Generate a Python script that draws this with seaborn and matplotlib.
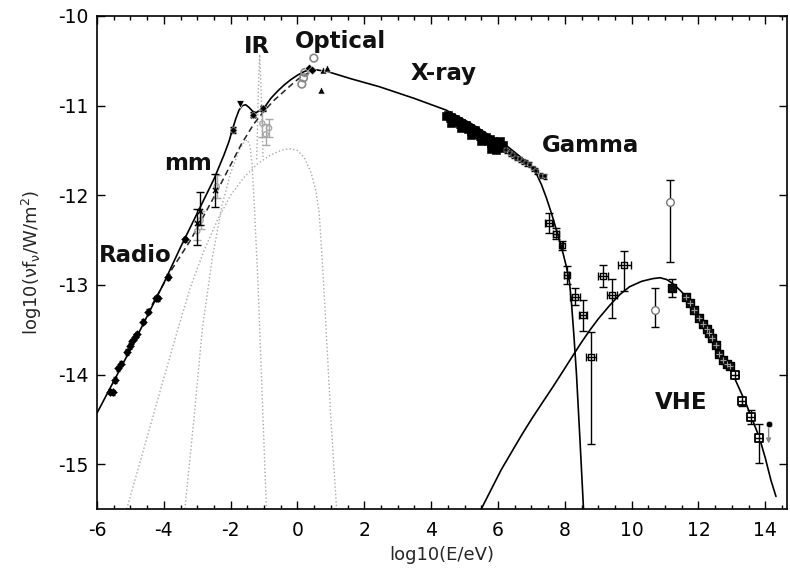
import matplotlib
matplotlib.use("Agg")
import matplotlib.pyplot as plt
import seaborn as sns
import numpy as np

# ---------------- data ----------------
# total model (solid)
tot_x = [-6.0, -5.0, -4.0, -3.5, -3.0, -2.5, -2.2, -2.05, -1.95, -1.85, -1.75, -1.65, -1.55,
         -1.45, -1.35, -1.25, -1.15, -1.05, -0.95, -0.8, -0.6, -0.4, -0.2, 0.0, 0.2, 0.35,
         0.55, 0.9, 1.6, 2.46, 3.5, 4.45, 5.2, 5.95, 6.3, 6.6, 6.9, 7.15, 7.3, 7.45, 7.6,
         7.76, 7.95, 8.05, 8.14, 8.2, 8.27, 8.35, 8.45, 8.56]
tot_y = [-14.43, -13.72, -12.98, -12.58, -12.2, -11.82, -11.55, -11.4, -11.27, -11.15, -11.05,
         -11.0, -10.99, -11.02, -11.06, -11.08, -11.06, -11.03, -11.0, -10.92, -10.84, -10.77,
         -10.71, -10.66, -10.62, -10.6, -10.6, -10.62, -10.7, -10.79, -10.92, -11.05, -11.2,
         -11.38, -11.46, -11.55, -11.64, -11.76, -11.88, -12.03, -12.2, -12.4, -12.65, -12.8,
         -12.97, -13.2, -13.55, -14.0, -14.7, -15.5]
# synchrotron without IR bump (dashed)
syn_x = [-4.5, -3.8, -3.2, -2.5, -2.0, -1.68, -1.3, -1.0, -0.7, -0.4, -0.1, 0.1, 0.3, 0.42, 0.6]
syn_y = [-13.32, -12.85, -12.5, -12.02, -11.66, -11.43, -11.2, -11.06, -10.94, -10.84, -10.74,
         -10.68, -10.64, -10.62, -10.6]
# inverse Compton (solid)
ic_x = [5.5, 5.8, 6.1, 6.4, 6.7, 7.0, 7.3, 7.64, 7.95, 8.24, 8.5, 8.74, 9.0, 9.34, 9.64, 9.94,
        10.3, 10.63, 10.85, 11.05, 11.25, 11.45, 11.63, 12.0, 12.42, 12.7, 13.02, 13.42, 13.82,
        14.0, 14.17, 14.32]
ic_y = [-15.5, -15.28, -15.06, -14.87, -14.68, -14.5, -14.33, -14.14, -13.96, -13.79, -13.64,
        -13.51, -13.38, -13.23, -13.11, -13.02, -12.96, -12.93, -12.92, -12.94, -12.99, -13.06,
        -13.13, -13.33, -13.58, -13.77, -13.99, -14.32, -14.7, -14.93, -15.18, -15.36]
# thermal components (grey dotted)
thA_x = [-5.11, -4.6, -4.1, -3.6, -3.2, -2.8, -2.4, -2.0, -1.6, -1.2, -0.8, -0.5, -0.25, 0.0,
         0.2, 0.4, 0.55, 0.65, 0.72, 0.8, 0.9, 1.0, 1.17]
thA_y = [-15.5, -14.83, -14.17, -13.52, -13.02, -12.62, -12.28, -12.0, -11.8, -11.65, -11.55,
         -11.5, -11.48, -11.5, -11.58, -11.74, -11.95, -12.2, -12.6, -13.1, -13.8, -14.5, -15.5]
thB_x = [-3.37, -3.1, -2.85, -2.55, -2.25, -2.0, -1.75, -1.6, -1.5, -1.42, -1.36, -1.28,
         -1.18, -1.08, -0.98, -0.93]
thB_y = [-15.5, -14.5, -13.5, -12.7, -12.1, -11.75, -11.5, -11.41, -11.38, -11.45, -11.65,
         -12.2, -13.0, -14.0, -15.0, -15.5]
thC_x = [-1.22, -1.17, -1.13, -1.09, -1.03]
thC_y = [-11.6, -10.8, -10.43, -10.8, -11.6]

# radio data
radio_x = [-5.61, -5.52, -5.46, -5.36, -5.28, -5.11, -5.02, -4.96, -4.86, -4.8, -4.61, -4.46,
           -4.22, -4.18, -3.87, -3.37]
radio_y = [-14.19, -14.2, -14.06, -13.93, -13.88, -13.75, -13.68, -13.63, -13.58, -13.55,
           -13.41, -13.3, -13.15, -13.15, -12.91, -12.49]
# mm data with asymmetric errors
mm_x = [-3.02, -2.92, -2.47]
mm_y = [-12.31, -12.17, -11.94]
mm_lo = [0.25, 0.16, 0.19]
mm_hi = [0.16, 0.21, 0.18]
# far-IR data (black)
fir_x = [-1.93, -1.33, -1.03]
fir_y = [-11.27, -11.1, -11.03]
fir_lim_x = [-1.72]
fir_lim_y = [-10.98]
# grey data (mm, IR, optical)
gmm_x = [-2.42, -2.9, -3.0]
gmm_y = [-11.9, -12.28, -12.4]
gmm_e = [0.13, 0.1, 0.1]
gir_x = [-1.05, -0.95, -0.85]
gir_y = [-11.2, -11.32, -11.25]
gir_e = [0.15, 0.12, 0.1]
gopt_x = [0.49, 0.22, 0.18, 0.13]
gopt_y = [-10.47, -10.63, -10.69, -10.76]
# optical black
opt_x = [0.34, 0.42]
opt_y = [-10.58, -10.6]
opt_tri_x = [0.75, 0.89, 0.69]
opt_tri_y = [-10.6, -10.58, -10.83]
# X-ray dense
xray_x = [4.45, 4.5, 4.55, 4.6, 4.65, 4.7, 4.75, 4.8, 4.85, 4.9, 4.95, 5.0, 5.05, 5.1, 5.15,
          5.2, 5.25, 5.3, 5.35, 5.4, 5.45, 5.5, 5.55, 5.6, 5.65, 5.7, 5.75, 5.8, 5.85, 5.9,
          5.95, 6.0, 6.05, 6.1, 6.15, 4.6, 4.9, 5.2, 5.5, 5.8, 5.95]
xray_y = [-11.12, -11.1, -11.14, -11.13, -11.16, -11.15, -11.18, -11.17, -11.2, -11.19, -11.22,
          -11.24, -11.22, -11.26, -11.25, -11.28, -11.3, -11.27, -11.32, -11.3, -11.34, -11.33,
          -11.36, -11.38, -11.35, -11.4, -11.37, -11.42, -11.4, -11.44, -11.42, -11.45, -11.4,
          -11.47, -11.44, -11.19, -11.25, -11.33, -11.4, -11.48, -11.5]
hx_x = [6.25, 6.35, 6.45, 6.55, 6.65, 6.75, 6.85, 6.95, 7.05, 7.15, 7.3, 7.4]
hx_y = [-11.5, -11.53, -11.55, -11.58, -11.6, -11.62, -11.64, -11.66, -11.7, -11.73, -11.78, -11.79]
# gamma data
gam_x = [7.54, 7.74, 7.91, 8.06, 8.31, 8.54, 8.79, 9.14, 9.41, 9.78]
gam_y = [-12.31, -12.43, -12.56, -12.89, -13.13, -13.34, -13.8, -12.9, -13.11, -12.78]
gam_xe = [0.12, 0.08, 0.05, 0.08, 0.15, 0.12, 0.15, 0.15, 0.15, 0.2]
gam_lo = [0.11, 0.06, 0.05, 0.1, 0.09, 0.17, 0.97, 0.12, 0.26, 0.29]
gam_hi = [0.11, 0.06, 0.05, 0.1, 0.09, 0.17, 0.28, 0.12, 0.18, 0.16]
# open circles (GeV-TeV)
oc_x = [10.71, 11.15]
oc_y = [-13.28, -12.08]
oc_lo = [0.19, 0.66]
oc_hi = [0.25, 0.25]
# VHE (dense, dark squares) and VHE (open crossed squares)
vhe_x = [11.21, 11.63, 11.75, 11.88, 12.01, 12.13, 12.25, 12.33, 12.41, 12.53, 12.62, 12.72,
         12.84, 12.94]
vhe_y = [-13.03, -13.14, -13.2, -13.28, -13.37, -13.44, -13.49, -13.54, -13.59, -13.67, -13.77,
         -13.84, -13.88, -13.9]
vhe_lo = [0.1, 0, 0, 0, 0, 0, 0, 0, 0, 0, 0, 0, 0, 0]
vhe_hi = [0.1, 0, 0, 0, 0, 0, 0, 0, 0, 0, 0, 0, 0, 0]
vho_x = [13.1, 13.3, 13.57, 13.82]
vho_y = [-14.0, -14.3, -14.47, -14.71]
vho_lo = [0.03, 0.05, 0.08, 0.28]
vho_hi = [0.03, 0.05, 0.08, 0.16]
ul_x = [14.1]
ul_y = [-14.55]

labels = ["Radio", "mm", "IR", "Optical", "X-ray", "Gamma", "VHE"]
label_x = [-4.86, -3.29, -1.2, 1.29, 4.38, 8.76, 11.48]
label_y = [-12.745, -11.72, -10.417, -10.36, -10.714, -11.514, -14.38]

xticks = [-6, -4, -2, 0, 2, 4, 6, 8, 10, 12, 14]
xticklabels = ["-6", "-4", "-2", "0", "2", "4", "6", "8", "10", "12", "14"]
yticks = [-15, -14, -13, -12, -11, -10]
yticklabels = ["-15", "-14", "-13", "-12", "-11", "-10"]

# ---------------- plot ----------------
sns.set_theme(style="ticks")
plt.rcParams["font.family"] = ["DejaVu Sans"]
plt.rcParams["mathtext.default"] = "regular"

fig = plt.figure(figsize=(7.9, 5.74), dpi=100)
ax = fig.add_axes([97 / 790, 1 - 509 / 574, 690 / 790, 493 / 574])

grey = "#a8a8a8"
for xs, ys in [(thA_x, thA_y), (thB_x, thB_y), (thC_x, thC_y)]:
    sns.lineplot(x=xs, y=ys, ax=ax, color=grey, lw=1.0, linestyle=":", sort=False, estimator=None)
sns.lineplot(x=syn_x, y=syn_y, ax=ax, color="#222222", lw=1.1, sort=False, estimator=None,
             dashes=False, linestyle=(0, (4, 2.5)))
sns.lineplot(x=tot_x, y=tot_y, ax=ax, color="black", lw=1.2, sort=False, estimator=None)
sns.lineplot(x=ic_x, y=ic_y, ax=ax, color="black", lw=1.2, sort=False, estimator=None)

ekw = dict(ecolor="black", elinewidth=1.0, capsize=3, capthick=1.0, fmt="none", zorder=3)
gkw = dict(ecolor=grey, elinewidth=1.0, capsize=3, capthick=1.0, fmt="none", zorder=2)

# grey data
ax.errorbar(gmm_x, gmm_y, yerr=gmm_e, **gkw)
ax.errorbar(gir_x, gir_y, yerr=gir_e, **gkw)
sns.scatterplot(x=gmm_x + gir_x, y=gmm_y + gir_y, ax=ax, marker="o", s=14,
                facecolor="none", edgecolor=grey, linewidth=1.0, zorder=2)
sns.scatterplot(x=gopt_x, y=gopt_y, ax=ax, marker="o", s=30, facecolor="none",
                edgecolor="#888888", linewidth=1.2, zorder=3)

# radio
ax.errorbar(radio_x, radio_y, yerr=0.03, xerr=0.04, ecolor="black", elinewidth=0.8,
            capsize=1.5, fmt="none", zorder=3)
sns.scatterplot(x=radio_x, y=radio_y, ax=ax, marker="D", s=16, color="black",
                edgecolor="black", zorder=4)
# mm
ax.errorbar(mm_x, mm_y, yerr=[mm_lo, mm_hi], **ekw)
sns.scatterplot(x=mm_x, y=mm_y, ax=ax, marker="x", s=14, color="black", linewidth=1, zorder=4)
# far IR
ax.errorbar(fir_x, fir_y, yerr=0.03, xerr=0.05, ecolor="black", elinewidth=1, capsize=2,
            fmt="none", zorder=3)
sns.scatterplot(x=fir_x, y=fir_y, ax=ax, marker="D", s=14, color="black", zorder=4)
sns.scatterplot(x=fir_lim_x, y=fir_lim_y, ax=ax, marker="v", s=30, color="black", zorder=4)
# optical
sns.scatterplot(x=opt_x, y=opt_y, ax=ax, marker="D", s=20, color="black", zorder=4)
sns.scatterplot(x=opt_tri_x, y=opt_tri_y, ax=ax, marker="^", s=26, color="black", zorder=4)

# X-ray
sns.scatterplot(x=xray_x, y=xray_y, ax=ax, marker="s", s=28, color="black",
                edgecolor="black", zorder=4)
ax.errorbar(hx_x, hx_y, xerr=0.05, yerr=0.03, ecolor="black", elinewidth=1, capsize=1.5,
            fmt="none", zorder=3)
sns.scatterplot(x=hx_x, y=hx_y, ax=ax, marker="s", s=12, color="black", zorder=4)

# gamma
ax.errorbar(gam_x, gam_y, xerr=gam_xe, yerr=[gam_lo, gam_hi], **ekw)
sns.scatterplot(x=gam_x, y=gam_y, ax=ax, marker="s", s=18, facecolor="none",
                edgecolor="black", linewidth=1.0, zorder=4)

# open circles
ax.errorbar(oc_x, oc_y, yerr=[oc_lo, oc_hi], **ekw)
sns.scatterplot(x=oc_x, y=oc_y, ax=ax, marker="o", s=30, facecolor="white",
                edgecolor="#777777", linewidth=1.0, zorder=4)

# VHE
ax.errorbar(vhe_x, vhe_y, yerr=[vhe_lo, vhe_hi], **ekw)
ax.errorbar(vho_x, vho_y, yerr=[vho_lo, vho_hi], **ekw)
sns.scatterplot(x=vhe_x, y=vhe_y, ax=ax, marker="s", s=40, color="#111111",
                edgecolor="black", linewidth=1.0, zorder=4)
sns.scatterplot(x=vhe_x[1:], y=vhe_y[1:], ax=ax, marker="+", s=14, color="#9a9a9a",
                linewidth=0.8, zorder=5)
sns.scatterplot(x=vho_x, y=vho_y, ax=ax, marker="s", s=40, facecolor="white",
                edgecolor="black", linewidth=1.3, zorder=4)
sns.scatterplot(x=vho_x, y=vho_y, ax=ax, marker="+", s=40, color="black",
                linewidth=1.0, zorder=5)
# upper limit
ax.annotate("", xy=(ul_x[0], ul_y[0] - 0.25), xytext=(ul_x[0], ul_y[0]),
            arrowprops=dict(arrowstyle="-|>", color="#888888", lw=1.0, mutation_scale=7),
            zorder=3)
sns.scatterplot(x=ul_x, y=ul_y, ax=ax, marker="o", s=22, color="black", zorder=5)

for t, lx, ly in zip(labels, label_x, label_y):
    ax.text(lx, ly, t, ha="center", va="baseline", fontsize=16.5, fontweight="bold",
            color="#111111", zorder=7)

ax.set_xlim(-6, 14.65)
ax.set_ylim(-15.5, -10)
ax.set_xticks(xticks)
ax.set_xticklabels(xticklabels)
ax.set_xticks(np.arange(-6, 14.6, 0.5), minor=True)
ax.set_yticks(yticks)
ax.set_yticklabels(yticklabels)
ax.tick_params(which="both", direction="in", top=True, right=True, colors="black",
               labelsize=13.5)
ax.tick_params(which="major", length=6, width=1.0)
ax.tick_params(which="minor", length=3, width=1.0)
ax.tick_params(axis="x", which="major", pad=9)
ax.tick_params(axis="y", which="major", pad=6)
for s in ax.spines.values():
    s.set_linewidth(1.2)
    s.set_color("black")
ax.set_xlabel("log10(E/eV)", fontsize=13, labelpad=4)
ax.set_ylabel(r"log10(νf$_ν$/W/m$^2$)", fontsize=13, labelpad=10)

fig.savefig("out.png", dpi=100)
